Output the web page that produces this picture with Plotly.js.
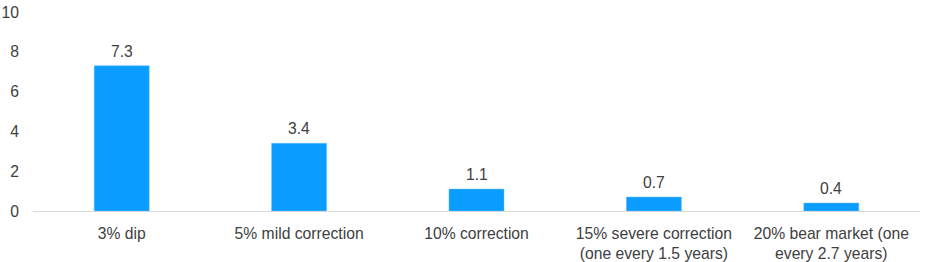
<!DOCTYPE html>
<html>
<head>
<meta charset="utf-8">
<script src="https://cdn.plot.ly/plotly-3.0.1.min.js"></script>
<style>html,body{margin:0;padding:0;background:#fff;}#chart{width:926px;height:262px;}</style>
</head>
<body>
<div id="chart"></div>
<script>
var categories = ["3% dip", "5% mild correction", "10% correction", "15% severe correction<br>(one every 1.5 years)", "20% bear market (one<br>every 2.7 years)"];
var values = [7.3, 3.4, 1.1, 0.7, 0.4];
var valueLabels = ["7.3", "3.4", "1.1", "0.7", "0.4"];
var yTicks = [0, 2, 4, 6, 8, 10];

var font = {family: "Liberation Sans, Arial, sans-serif", size: 15.7, color: "#404040"};

var annotations = categories.map(function (c, i) {
  return {x: c, y: values[i], xref: "x", yref: "y", text: valueLabels[i],
          showarrow: false, yanchor: "bottom", yshift: 4, font: font};
});

Plotly.newPlot("chart", [{
  type: "bar",
  x: categories,
  y: values,
  marker: {color: "#0a9cff", line: {color: "#5fbfff", width: 0.5}},
  hoverinfo: "none"
}], {
  width: 926, height: 262,
  margin: {l: 33, r: 6, t: 12, b: 51},
  paper_bgcolor: "#fff", plot_bgcolor: "#fff",
  bargap: 0.69,
  font: font,
  showlegend: false,
  annotations: annotations,
  xaxis: {
    type: "category",
    showline: true, linecolor: "#d9d9d9", linewidth: 1,
    ticks: "", tickfont: font, showgrid: false, zeroline: false,
    ticklabelstandoff: 8, fixedrange: true
  },
  yaxis: {
    range: [0, 10], tickvals: yTicks, ticktext: yTicks.map(String),
    showgrid: false, zeroline: false, showline: false, ticks: "",
    tickfont: font, ticklabelstandoff: 13, fixedrange: true
  }
}, {displayModeBar: false, staticPlot: true});
</script>
</body>
</html>
